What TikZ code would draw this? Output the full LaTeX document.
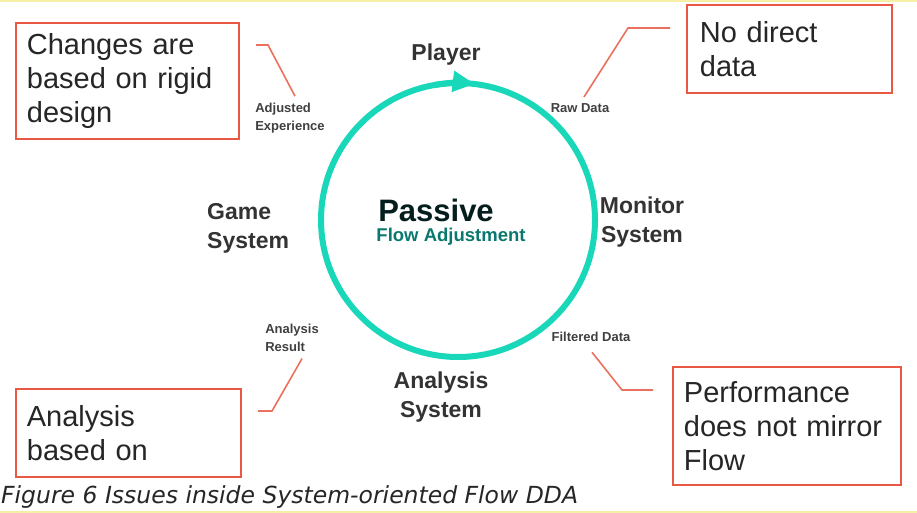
\documentclass[tikz,border=0pt]{standalone}
\usepackage{fontspec}
\setmainfont{Liberation Sans}
\newfontfamily\capfont{DejaVu Sans}
\usetikzlibrary{arrows.meta, positioning, calc}
\definecolor{ringcolor} {RGB}{25, 215, 185}
\definecolor{issuecolor}{RGB}{232, 88, 66}
\definecolor{flowcolor} {RGB}{10, 120, 110}
\definecolor{edgecolor} {RGB}{245, 240, 165}
\tikzset{
	issuebox/.style={
		rectangle, draw=issuecolor, line width=1.8pt,
		anchor=north west, inner xsep=11pt, inner ysep=0pt,
		align=left, font=\fontsize{29}{34}\selectfont, text=black!85
	},
	stagelabel/.style={
		align=center, font=\fontsize{23}{29}\selectfont\bfseries, text=black!80
	},
	datalabel/.style={
		align=left, font=\fontsize{13}{18.5}\selectfont\bfseries, text=black!75
	},
	ring/.style={
		draw=ringcolor, line width=6pt
	},
	issueline/.style={
		draw=issuecolor!85, line width=1.6pt
	}
}

\begin{document}
\begin{tikzpicture}[x=1pt, y=-1pt]
		\useasboundingbox (0,0) rectangle (917,513);
		\fill[white] (0,0) rectangle (917,513);
		\fill[edgecolor] (0,0) rectangle (917,2.5);
		\fill[edgecolor] (0,510.5) rectangle (917,513);
		
		%% ═══════════════════════════════
		%%  LOOP
		%% ═══════════════════════════════
		\node[ring, circle, minimum size=274pt, inner sep=0pt, outer sep=0pt] (loop) at (458,220) {};
		\draw[ring, -{Triangle[length=22pt, width=20pt]}]
		(loop.100) arc[start angle=100, end angle=83, radius=137pt];
		
		\node[font=\fontsize{31}{34}\selectfont\bfseries, text=black!75!flowcolor] (passive) at (436,210) {Passive};
		\node[font=\fontsize{18.5}{22}\selectfont\bfseries, text=flowcolor] (flowadj) at (451,237) {Flow Adjustment};
		
		%% ═══════════════════════════════
		%%  STAGES
		%% ═══════════════════════════════
		\node[stagelabel] (player)   at (446,55)  {Player};
		\node[stagelabel] (monitor)  at (642,222) {Monitor\\System};
		\node[stagelabel] (analysis) at (441,397) {Analysis\\System};
		\node[stagelabel, align=left, anchor=west, inner xsep=0pt] (game) at (207,228) {Game\\System};
		
		\node[datalabel] (adjexp)   at (290,118) {Adjusted\\Experience};
		\node[datalabel] (rawdata)  at (580,108) {Raw Data};
		\node[datalabel] (filtered) at (591,337) {Filtered Data};
		\node[datalabel] (result)   at (292,338) {Analysis\\Result};
		
		%% ═══════════════════════════════
		%%  ISSUES
		%% ═══════════════════════════════
		\node[issuebox, minimum width=223pt, minimum height=116pt,
		text width=201pt] (rigid) at (15,22) {Changes are\\based on rigid\\design};
		
		\node[issuebox, minimum width=201pt, minimum height=88pt,
		text width=179pt, inner xsep=13pt] (nodata) at (686,4) {No direct\\data};
		
		\node[issuebox, minimum width=225pt, minimum height=88pt,
		text width=203pt] (basedon) at (15,388) {Analysis\\based on};
		
		\node[issuebox, minimum width=228pt, minimum height=118pt,
		text width=206pt, inner xsep=9pt] (mirror) at (672,366) {Performance\\does not mirror\\Flow};
		
		%% ═══════════════════════════════
		%%  POINTERS
		%% ═══════════════════════════════
		\coordinate (rigidend)   at (256,45);
		\coordinate (nodataend)  at (670,28);
		\coordinate (basedonend) at (258,411);
		\coordinate (mirrorend)  at (653,390);
		
		% rigid design → adjusted experience
		\draw[issueline] (rigidend) -- ++(12,0) -- ($(adjexp.north)+(5,-3)$);
		
		% no direct data → raw data
		\draw[issueline] (nodataend) -- ++(-42,0) -- ($(rawdata.north)+(4,-3)$);
		
		% analysis based on → analysis result
		\draw[issueline] (basedonend) -- ++(14,0) -- ($(result.south)+(10,3)$);
		
		% mirror → filtered data
		\draw[issueline] (mirrorend) -- ++(-31,0) -- ($(filtered.south)+(1,7)$);
		
		%% ═══════════════════════════════
		%%  CAPTION
		%% ═══════════════════════════════
		\node[anchor=west, inner sep=0pt, font=\capfont\itshape\fontsize{23.5}{26}\selectfont, text=black!85] (caption) at (1,497) {Figure 6 Issues inside System-oriented Flow DDA};
	\end{tikzpicture}
\end{document}
